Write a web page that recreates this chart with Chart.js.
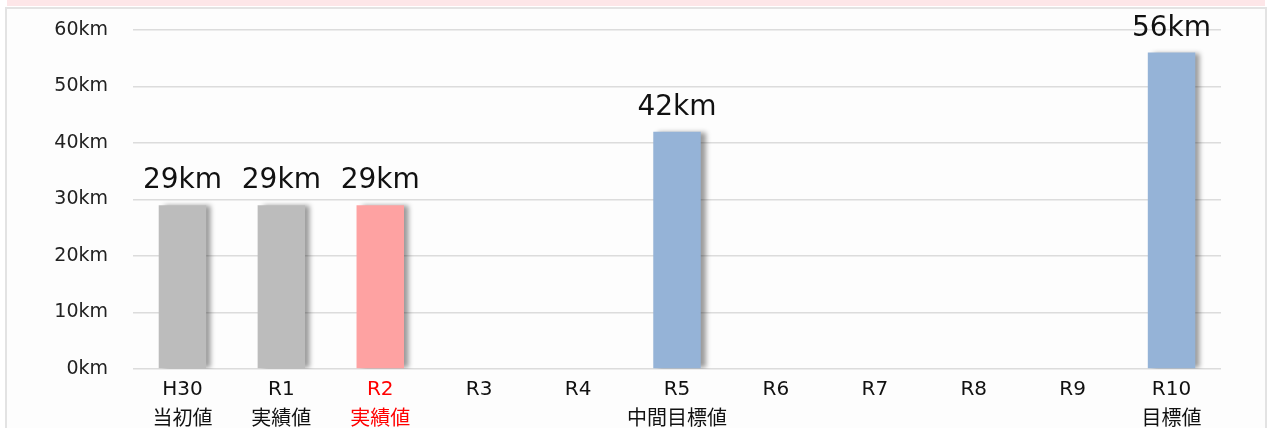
<!DOCTYPE html>
<html>
<head>
<meta charset="utf-8">
<script src="https://cdn.jsdelivr.net/npm/chart.js@4/dist/chart.umd.min.js"></script>
<style>
  html, body { margin: 0; padding: 0; background: #fff; }
  body { width: 1271px; height: 428px; position: relative; overflow: hidden; }
  .band { position: absolute; left: 7px; top: 0; width: 1258px; height: 6px; background: #fde6e8; }
  .panel { position: absolute; left: 5px; top: 7px; width: 1258px; height: 440px;
           border: 2px solid #e3e3e3; background: #fdfdfd; }
  #wrap { position: absolute; left: 0; top: 0; width: 1271px; height: 428px; }
</style>
</head>
<body>
<div class="band"></div>
<div class="panel"></div>
<div id="wrap"><canvas id="c"></canvas></div>
<script>
// 年度ラベル（2行目は補足）
const years = ['H30', 'R1', 'R2', 'R3', 'R4', 'R5', 'R6', 'R7', 'R8', 'R9', 'R10'];
const notes = ['当初値', '実績値', '実績値', '', '', '中間目標値', '', '', '', '', '目標値'];
// 延長 (km)
const lengths = [29, 29, 29, null, null, 42, null, null, null, null, 56];
const barColors = ['#bcbcbc', '#bcbcbc', '#fea2a2', '#95b3d7', '#95b3d7', '#95b3d7',
                   '#95b3d7', '#95b3d7', '#95b3d7', '#95b3d7', '#95b3d7'];
const yTicks = [0, 10, 20, 30, 40, 50, 60];

const FONT = '"DejaVu Sans", "Noto Sans CJK JP", sans-serif';

const labels = years.map((y, i) => notes[i] ? [y, notes[i]] : [y]);

// バーの影
const shadowPlugin = {
  id: 'barShadow',
  beforeDatasetsDraw(chart) {
    const c = chart.ctx;
    c.save();
    c.shadowColor = 'rgba(0,0,0,0.4)';
    c.shadowBlur = 5;
    c.shadowOffsetX = 5;
    c.shadowOffsetY = 0;
  },
  afterDatasetsDraw(chart) {
    chart.ctx.restore();
  }
};

// 値ラベル
const valueLabels = {
  id: 'valueLabels',
  afterDatasetsDraw(chart) {
    const c = chart.ctx;
    const meta = chart.getDatasetMeta(0);
    c.save();
    c.font = `28px ${FONT}`;
    c.fillStyle = '#111';
    c.textAlign = 'center';
    c.textBaseline = 'alphabetic';
    meta.data.forEach((bar, i) => {
      const v = lengths[i];
      if (v == null) return;
      c.fillText(`${v}km`, bar.x, bar.y - 17);
    });
    c.restore();
  }
};

new Chart(document.getElementById('c'), {
  type: 'bar',
  data: {
    labels: labels,
    datasets: [{
      data: lengths,
      backgroundColor: barColors,
      borderWidth: 0,
      barPercentage: 0.6,
      categoryPercentage: 0.8
    }]
  },
  options: {
    responsive: true,
    maintainAspectRatio: false,
    animation: false,
    layout: { padding: { top: 30, right: 50, bottom: 0, left: 0 } },
    plugins: {
      legend: { display: false },
      tooltip: { enabled: false }
    },
    scales: {
      x: {
        grid: { display: false, drawTicks: false },
        border: { display: false },
        ticks: {
          padding: 6,
          autoSkip: false,
          maxRotation: 0,
          font: { family: FONT, size: 20, lineHeight: 1.5 },
          color: (ctx) => ctx.index === 2 ? '#ff0000' : '#111'
        },
        afterFit(scale) { scale.height = 59; }
      },
      y: {
        min: 0,
        max: 60,
        afterBuildTicks(scale) { scale.ticks = yTicks.map(v => ({ value: v })); },
        grid: { color: '#dcdcdc', lineWidth: 1.5, drawTicks: false },
        border: { display: false },
        ticks: {
          padding: 25,
          font: { family: FONT, size: 19 },
          color: '#222',
          callback: v => `${v}km`
        },
        afterFit(scale) {
          scale.width = 133;
          scale.paddingTop = 0;
          scale.paddingBottom = 0;
        }
      }
    }
  },
  plugins: [shadowPlugin, valueLabels]
});
</script>
</body>
</html>
